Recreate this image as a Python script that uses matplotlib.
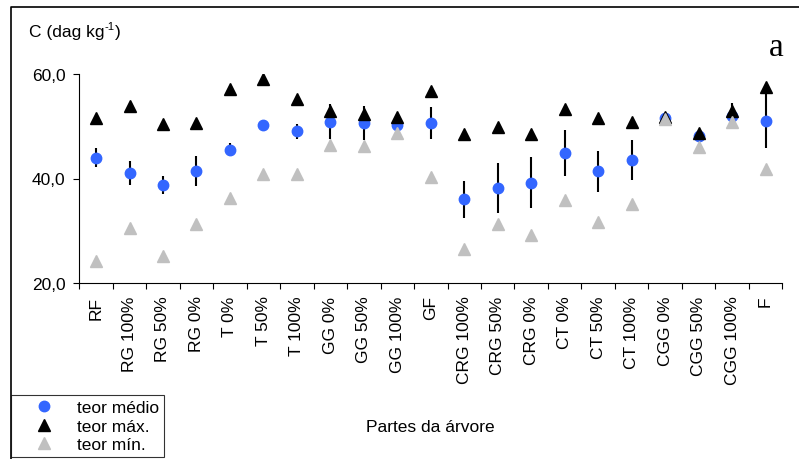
import numpy as np
import matplotlib
matplotlib.use("Agg")
import matplotlib.pyplot as plt
from matplotlib.lines import Line2D

plt.rcParams['font.family'] = ['Liberation Sans', 'DejaVu Sans']
plt.rcParams['mathtext.default'] = 'regular'

# dados
partes = ['RF', 'RG 100%', 'RG 50%', 'RG 0%', 'T 0%', 'T 50%', 'T 100%',
          'GG 0%', 'GG 50%', 'GG 100%', 'GF', 'CRG 100%', 'CRG 50%', 'CRG 0%',
          'CT 0%', 'CT 50%', 'CT 100%', 'CGG 0%', 'CGG 50%', 'CGG 100%', 'F']
teor_medio = [44.0, 41.1, 38.8, 41.4, 45.5, 50.3, 49.0, 50.9, 50.6, 50.3, 50.6,
              36.0, 38.2, 39.2, 44.9, 41.4, 43.6, 51.5, 48.1, 51.9, 51.0]
teor_max = [51.6, 53.8, 50.4, 50.6, 57.1, 59.0, 55.2, 53.0, 52.3, 51.7, 56.7,
            48.5, 49.8, 48.5, 53.3, 51.6, 50.8, 51.7, 48.8, 53.0, 57.5]
teor_min = [24.3, 30.6, 25.1, 31.3, 36.3, 40.8, 40.8, 46.4, 46.2, 48.8, 40.2,
            26.5, 31.3, 29.1, 35.8, 31.6, 35.1, 51.3, 46.0, 50.8, 41.8]
desvio = [1.8, 2.3, 1.7, 2.9, 1.2, 0.6, 1.5, 3.3, 3.3, 0.8, 3.0,
          3.6, 4.8, 4.9, 4.4, 3.9, 3.8, 0.5, 0.8, 2.5, 5.15]
y_ticks = [20, 40, 60]
y_labels = ['20,0', '40,0', '60,0']

W, H = 799, 460
fig = plt.figure(figsize=(W / 100, H / 100), dpi=100)
ax = fig.add_axes([79.3 / W, 1 - 284 / H, (782.3 - 79.3) / W, (284 - 75) / H])

x = np.arange(len(partes))
ax.errorbar(x, teor_medio, yerr=desvio, fmt='none', ecolor='black',
            elinewidth=1.5, capsize=0, zorder=2)
ax.plot(x, teor_medio, 'o', color='#3366ff', markersize=7.5, zorder=3, label='teor médio')
ax.plot(x, teor_max, '^', color='black', markersize=8.5, zorder=4, label='teor máx.')
ax.plot(x, teor_min, '^', color='#c0c0c0', markersize=8.5, zorder=5, label='teor mín.')

ax.set_xlim(-0.5, len(partes) - 0.5)
ax.set_ylim(20, 60)
ax.set_yticks(y_ticks)
ax.set_yticklabels(y_labels, fontsize=12.5)
ax.set_xticks(x)
ax.set_xticklabels(partes, rotation=90, fontsize=12.5, va='top')
ax.set_xticks(np.arange(len(partes) + 1) - 0.5, minor=True)
ax.tick_params(axis='x', which='major', length=0, pad=9)
ax.tick_params(axis='x', which='minor', length=4, width=0.8, direction='out')
ax.tick_params(axis='y', length=4, width=0.8, direction='out', pad=6)
for s in ['top', 'right']:
    ax.spines[s].set_visible(False)
for s in ['left', 'bottom']:
    ax.spines[s].set_linewidth(0.8)

# rotulo do eixo y com expoente "-1" com hifen
t = fig.text(29 / W, 1 - 32 / H, 'C (dag kg', fontsize=12.5, va='center', ha='left')
fig.canvas.draw()
bb = t.get_window_extent()
sup = fig.text(bb.x1 / W, 1 - 27 / H, '-1', fontsize=8, va='center', ha='left')
bb2 = sup.get_window_extent()
fig.text(bb2.x1 / W, 1 - 32 / H, ')', fontsize=12.5, va='center', ha='left')

fig.text(776 / W, 1 - 48 / H, 'a', fontsize=24, family='Liberation Serif',
         va='center', ha='center')
fig.text(430 / W, 1 - 428 / H, 'Partes da árvore', fontsize=12.5, va='center', ha='center')

# moldura
fig.add_artist(Line2D([11 / W, 11 / W, 1], [0, 1 - 8 / H, 1 - 8 / H],
                      transform=fig.transFigure, color='black', linewidth=1.2))

leg = fig.legend(loc='upper left', bbox_to_anchor=(11 / W, 1 - 396 / H),
                 bbox_transform=fig.transFigure, borderaxespad=0, fontsize=12.5,
                 frameon=True, fancybox=False, numpoints=1, labelspacing=0.18,
                 handlelength=3.2, handletextpad=0.3, borderpad=0.3)
leg.get_frame().set_edgecolor('black')
leg.get_frame().set_linewidth(0.8)

fig.savefig('out.png', dpi=100)
